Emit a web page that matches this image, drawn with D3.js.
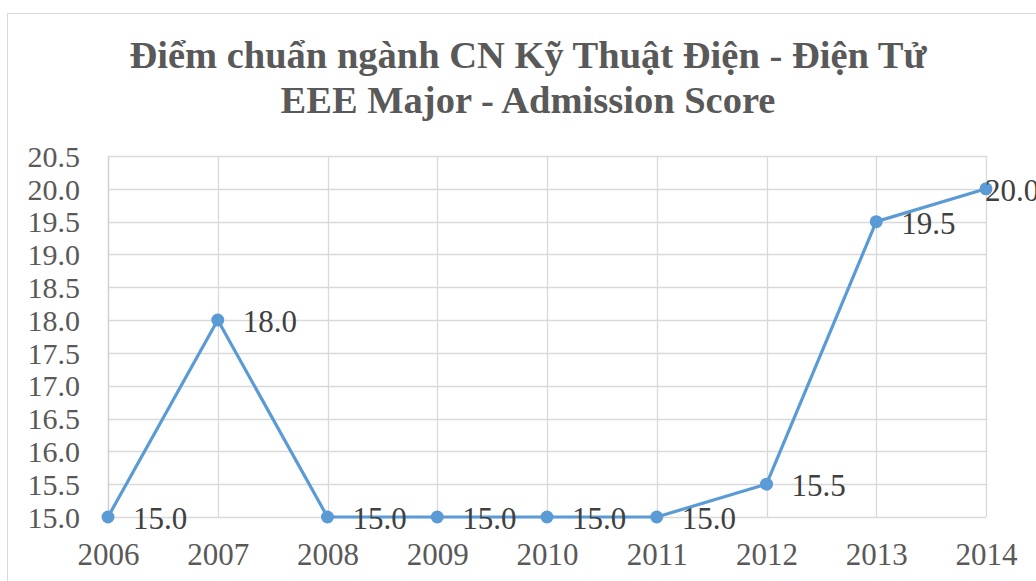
<!DOCTYPE html>
<html><head><meta charset="utf-8">
<script src="https://cdn.jsdelivr.net/npm/d3@7"></script>
<style>body{margin:0;background:#fff}svg{display:block}</style>
</head><body><svg id="c" width="1036" height="581"></svg>
<script>
const titleLines = ["Điểm chuẩn ngành CN Kỹ Thuật Điện - Điện Tử", "EEE Major - Admission Score"];
const years = ["2006","2007","2008","2009","2010","2011","2012","2013","2014"];
const scores = [15.0, 18.0, 15.0, 15.0, 15.0, 15.0, 15.5, 19.5, 20.0];
const yTicks = [15.0,15.5,16.0,16.5,17.0,17.5,18.0,18.5,19.0,19.5,20.0,20.5];

const svg = d3.select("#c");
const FONT = "Liberation Serif";
const L = 108, R = 986, T = 156, B = 517;

svg.append("rect").attr("x",7.5).attr("y",13.5).attr("width",1200).attr("height",800)
  .attr("fill","#fff").attr("stroke","#d9d9d9").attr("stroke-width",1);

const x = d3.scalePoint().domain(years).range([L, R]);
const y = d3.scaleLinear().domain([15, 20.5]).range([B, T]);

// gridlines
const g = svg.append("g");
g.selectAll("line.h").data(yTicks).join("line")
  .attr("x1",L).attr("x2",R).attr("y1",d=>Math.round(y(d))+0.5).attr("y2",d=>Math.round(y(d))+0.5)
  .attr("stroke","#d9d9d9").attr("stroke-width",1.3);
g.selectAll("line.v").data(years).join("line")
  .attr("y1",T).attr("y2",B).attr("x1",d=>Math.round(x(d))+0.5).attr("x2",d=>Math.round(x(d))+0.5)
  .attr("stroke","#d9d9d9").attr("stroke-width",1.3);

// y axis
const ya = svg.append("g").attr("transform",`translate(${L},0)`)
  .call(d3.axisLeft(y).tickValues(yTicks).tickFormat(d3.format(".1f")).tickSize(0).tickPadding(28));
ya.attr("font-family",FONT).attr("font-size",30);
ya.select(".domain").attr("stroke","#d0d0d0").attr("stroke-width",1.3);
ya.selectAll("text").attr("font-family",FONT).attr("font-size",30).attr("fill","#595959").attr("dy","0.34em");

// x axis
const xa = svg.append("g").attr("transform",`translate(0,${B})`)
  .call(d3.axisBottom(x).tickSize(0).tickPadding(0));
xa.attr("font-family",FONT).attr("font-size",31);
xa.select(".domain").remove();
xa.selectAll("text").attr("font-family",FONT).attr("font-size",31).attr("fill","#595959")
  .attr("dy",null).attr("y",48);

// line
const pts = years.map((yr,i)=>({yr, v:scores[i]}));
svg.append("path").datum(pts)
  .attr("d", d3.line().x(d=>x(d.yr)).y(d=>y(d.v)))
  .attr("fill","none").attr("stroke","#5b9bd5").attr("stroke-width",3.2).attr("stroke-linejoin","round");
svg.selectAll("circle.m").data(pts).join("circle")
  .attr("cx",d=>x(d.yr)).attr("cy",d=>y(d.v)).attr("r",6.5).attr("fill","#5b9bd5");

// data labels
svg.selectAll("text.lbl").data(pts).join("text")
  .attr("x",(d,i)=> i===pts.length-1 ? x(d.yr)-1 : x(d.yr)+25)
  .attr("y",d=>y(d.v)+12)
  .attr("font-family",FONT).attr("font-size",31).attr("fill","#404040")
  .text(d=>d3.format(".1f")(d.v));

// title
svg.selectAll("text.title").data(titleLines).join("text")
  .attr("x",528).attr("y",(d,i)=>68+i*45).attr("text-anchor","middle")
  .attr("font-family",FONT).attr("font-weight","bold").attr("font-size",38.5).attr("fill","#595959")
  .text(d=>d);
</script></body></html>
